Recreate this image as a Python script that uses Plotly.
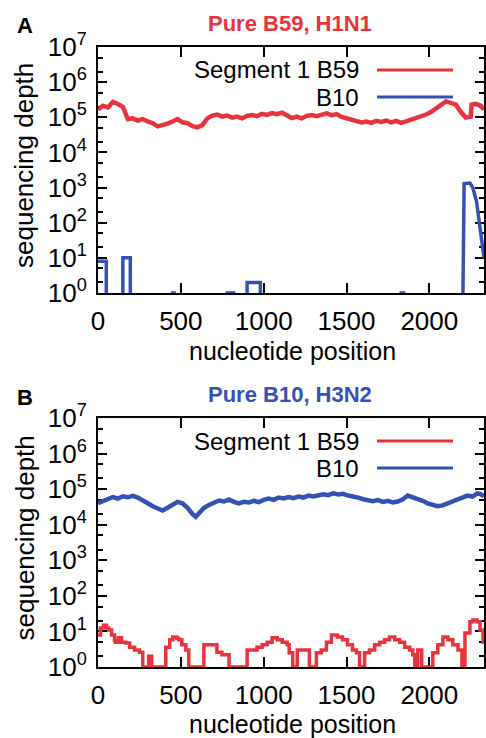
import plotly.graph_objects as go

# ---------------- data ----------------
# Panel A: pure B59 (H1N1) sample
a_b59_pos = [0, 30, 60, 90, 120, 150, 180, 210, 240, 270, 300, 330, 360, 390, 420, 450, 480, 510,
             540, 570, 600, 630, 660, 690, 720, 750, 780, 810, 840, 870, 900, 930, 960, 990,
             1020, 1050, 1080, 1110, 1140, 1170, 1200, 1230, 1260, 1290, 1320, 1350, 1380, 1410,
             1440, 1470, 1500, 1530, 1560, 1590, 1620, 1650, 1680, 1710, 1740, 1770, 1800, 1830,
             1860, 1890, 1920, 1950, 1980, 2010, 2040, 2070, 2100, 2130, 2160, 2190, 2220, 2250,
             2255, 2280, 2310, 2330]
a_b59_depth = [1.66e5, 2.14e5, 1.91e5, 2.75e5, 2.40e5, 2.0e5, 8.9e4, 9.3e4, 8.1e4, 8.9e4, 7.6e4,
               6.8e4, 5.5e4, 5.9e4, 6.6e4, 7.6e4, 8.9e4, 7.2e4, 6.8e4, 5.6e4, 5.2e4, 6.0e4, 9.3e4,
               1.12e5, 1.20e5, 1.05e5, 1.12e5, 9.8e4, 1.05e5, 9.3e4, 1.10e5, 1.15e5, 1.07e5,
               1.26e5, 1.17e5, 1.32e5, 1.23e5, 1.35e5, 1.10e5, 9.5e4, 1.05e5, 9.3e4, 1.10e5,
               1.15e5, 1.07e5, 1.20e5, 1.29e5, 1.15e5, 1.23e5, 1.02e5, 9.3e4, 8.3e4, 7.6e4, 7.1e4,
               7.6e4, 6.9e4, 7.9e4, 7.4e4, 8.1e4, 7.2e4, 7.9e4, 6.9e4, 7.6e4, 8.5e4, 9.3e4, 1.05e5,
               1.20e5, 1.41e5, 1.74e5, 2.14e5, 2.82e5, 2.57e5, 2.29e5, 1.41e5, 9.8e4, 1.05e5,
               2.29e5, 2.40e5, 2.14e5, 1.66e5]
a_b10_pos = [0, 50, 50, None, 150, 150, 195, 195, None, 440, 470, None, 770, 830, None,
             900, 900, 980, 980, None, 1820, 1855, None,
             2203, 2210, 2245, 2262, 2285, 2300, 2315, 2330]
a_b10_depth = [8, 8, 1, None, 1, 10, 10, 1, None, 1, 1, None, 1, 1, None,
               1, 2, 2, 1, None, 1, 1, None,
               1, 1300, 1350, 1000, 400, 100, 25, 10]

# Panel B: pure B10 (H3N2) sample
b_b10_pos = [0, 30, 60, 90, 120, 150, 180, 210, 240, 270, 300, 330, 360, 390, 420, 450, 480, 510,
             540, 570, 590, 610, 640, 670, 700, 730, 760, 790, 820, 850, 880, 910, 940, 970,
             1000, 1030, 1060, 1090, 1120, 1150, 1180, 1210, 1240, 1270, 1300, 1330, 1360, 1390,
             1420, 1450, 1480, 1510, 1540, 1570, 1600, 1630, 1660, 1690, 1720, 1750, 1780, 1810,
             1840, 1870, 1900, 1930, 1960, 1990, 2020, 2050, 2080, 2110, 2140, 2170, 2200, 2230,
             2260, 2290, 2310, 2330]
b_b10_depth = [4.0e4, 4.6e4, 5.5e4, 6.0e4, 5.4e4, 6.3e4, 5.9e4, 6.5e4, 5.8e4, 5.0e4, 4.0e4,
               3.3e4, 2.8e4, 2.5e4, 3.0e4, 3.7e4, 4.4e4, 4.0e4, 3.0e4, 2.0e4, 1.66e4, 2.1e4,
               3.0e4, 3.6e4, 4.2e4, 4.8e4, 4.5e4, 5.1e4, 4.4e4, 4.0e4, 4.4e4, 4.2e4, 4.7e4,
               4.3e4, 5.0e4, 5.4e4, 5.0e4, 5.8e4, 5.5e4, 6.0e4, 5.6e4, 6.2e4, 5.8e4, 6.6e4,
               6.2e4, 6.9e4, 7.2e4, 6.8e4, 7.6e4, 7.1e4, 7.4e4, 6.6e4, 6.3e4, 5.8e4, 5.2e4,
               4.8e4, 4.6e4, 4.9e4, 4.4e4, 4.7e4, 4.2e4, 4.5e4, 5.2e4, 6.6e4, 6.0e4, 5.1e4,
               4.7e4, 4.0e4, 3.6e4, 3.3e4, 3.5e4, 4.0e4, 4.6e4, 5.4e4, 6.0e4, 6.6e4, 6.2e4,
               7.6e4, 7.2e4, 6.3e4]
b_b59_pos = [0, 15, 33, 52, 64, 82, 100, 106, 124, 142, 167, 191, 221, 251, 270, 306, 324,
             409, 433, 451, 476, 488, 506, 530, 548, 639, 718, 748, 791, 900, 960, 991, 1021,
             1051, 1082, 1112, 1142, 1154, 1175, 1203, 1276, 1318, 1348, 1379, 1409, 1445, 1476,
             1506, 1536, 1560, 1579, 1609, 1639, 1670, 1700, 1730, 1760, 1791, 1821, 1851, 1882,
             1900, 1912, 1930, 1954, 2021, 2051, 2082, 2112, 2142, 2173, 2197, 2215, 2245, 2263,
             2288, 2306, 2324, 2330]
b_b59_depth = [8, 12.5, 15, 12.5, 11, 8, 5.6, 5, 6.6, 5, 4.7, 3.6, 3, 2.6, 1, 2, 1,
               3.6, 5.8, 7, 6.3, 5.8, 4.2, 3, 1, 4.2, 2.6, 2.2, 1, 3, 3.6, 4.2, 5,
               6.6, 5.8, 5, 4.2, 2.5, 1, 3, 1, 2.5, 3, 5, 8, 7, 5.8,
               4.2, 3, 2.5, 1, 2.5, 3, 4.2, 5, 5.8, 7, 5.8, 5, 3.6, 3,
               2.2, 1, 3, 1, 2.5, 4.2, 7, 5.8, 4.2, 3, 1, 9, 18.6, 21,
               18.6, 11, 5, 4.5]

titles = ["Pure B59, H1N1", "Pure B10, H3N2"]
panel_letters = ["A", "B"]
legend_names = ["Segment 1 B59", "B10"]
x_ticks = [0, 500, 1000, 1500, 2000]
y_tickvals = [1, 10, 100, 1000, 10000, 100000, 1000000, 10000000]
y_ticktext = ["10<sup>%d</sup>" % i for i in range(8)]
y_minor = [m * 10 ** e for e in range(7) for m in (2, 5)]

# ---------------- styling ----------------
RED = "#e8343c"
BLUE = "#3452b4"
FONT = "Liberation Sans, Arial, sans-serif"
W, H = 486, 738


def px(x):
    return x / W


def py(y):
    return 1 - y / H


fig = go.Figure()

panels = [
    dict(top=47, bottom=293, sfx="", title_color=RED, xt_off=58,
         series=[(a_b59_pos, a_b59_depth, RED, "linear", 4.5),
                 (a_b10_pos, a_b10_depth, BLUE, "linear", 3.5)]),
    dict(top=418, bottom=667, sfx="2", title_color=BLUE, xt_off=57,
         series=[(b_b10_pos, b_b10_depth, BLUE, "linear", 4.5),
                 (b_b59_pos, b_b59_depth, RED, "hv", 3.5)]),
]


def label(text, x, y, size, color="black", angle=0, xanchor="center"):
    return dict(text=text, x=px(x), y=py(y), xref="paper", yref="paper", showarrow=False,
                xanchor=xanchor, yanchor="middle", textangle=angle,
                font=dict(family=FONT, size=size, color=color))


annotations = []
shapes = []
for i, p in enumerate(panels):
    xa = "x" + p["sfx"]
    ya = "y" + p["sfx"]
    for xs, ys, col, shp, lw in p["series"]:
        fig.add_trace(go.Scatter(x=xs, y=ys, mode="lines", xaxis=xa, yaxis=ya,
                                 line=dict(color=col, width=lw, shape=shp),
                                 showlegend=False, hoverinfo="skip"))
    common = dict(showline=True, linecolor="black", linewidth=2, mirror="allticks",
                  ticks="inside", tickcolor="black", tickwidth=1.5, showgrid=False,
                  zeroline=False, layer="below traces", automargin=False,
                  tickfont=dict(family=FONT, size=26, color="black"))
    fig.layout["xaxis" + p["sfx"]] = dict(
        domain=[px(98), px(484)], range=[0, 2330], anchor=ya,
        tickvals=x_ticks, ticktext=[str(v) for v in x_ticks], ticklen=10,
        ticklabelstandoff=4, **common)
    fig.layout["yaxis" + p["sfx"]] = dict(
        domain=[py(p["bottom"]), py(p["top"])], type="log", range=[0, 7], anchor=xa,
        tickvals=y_tickvals, ticktext=y_ticktext, ticklen=9, ticklabelstandoff=4,
        minor=dict(tickvals=y_minor, ticks="inside", ticklen=5, tickcolor="black", tickwidth=1.5),
        **common)

    top, bot = p["top"], p["bottom"]
    annotations.append(label("<b>%s</b>" % titles[i], 290, top - 24, 22, p["title_color"]))
    annotations.append(label("<b>%s</b>" % panel_letters[i], 25, top - 21, 22))
    annotations.append(label("sequencing depth", 24, (top + bot) / 2 - 4, 26, angle=-90))
    annotations.append(label("nucleotide position", 292, bot + p["xt_off"], 25))
    for j, (name, col) in enumerate(zip(legend_names, [RED, BLUE])):
        ly = top + 23 + 27 * j
        annotations.append(label(name, 361, ly, 24, xanchor="right"))
        shapes.append(dict(type="line", xref="paper", yref="paper", x0=px(377), x1=px(453),
                           y0=py(ly), y1=py(ly), line=dict(color=col, width=3)))

fig.update_layout(width=W, height=H, margin=dict(l=0, r=0, t=0, b=0),
                  paper_bgcolor="white", plot_bgcolor="white",
                  annotations=annotations, shapes=shapes, showlegend=False)

fig.write_html("out.html", config={"displayModeBar": False},
               post_script="document.body.style.margin='0px';")
